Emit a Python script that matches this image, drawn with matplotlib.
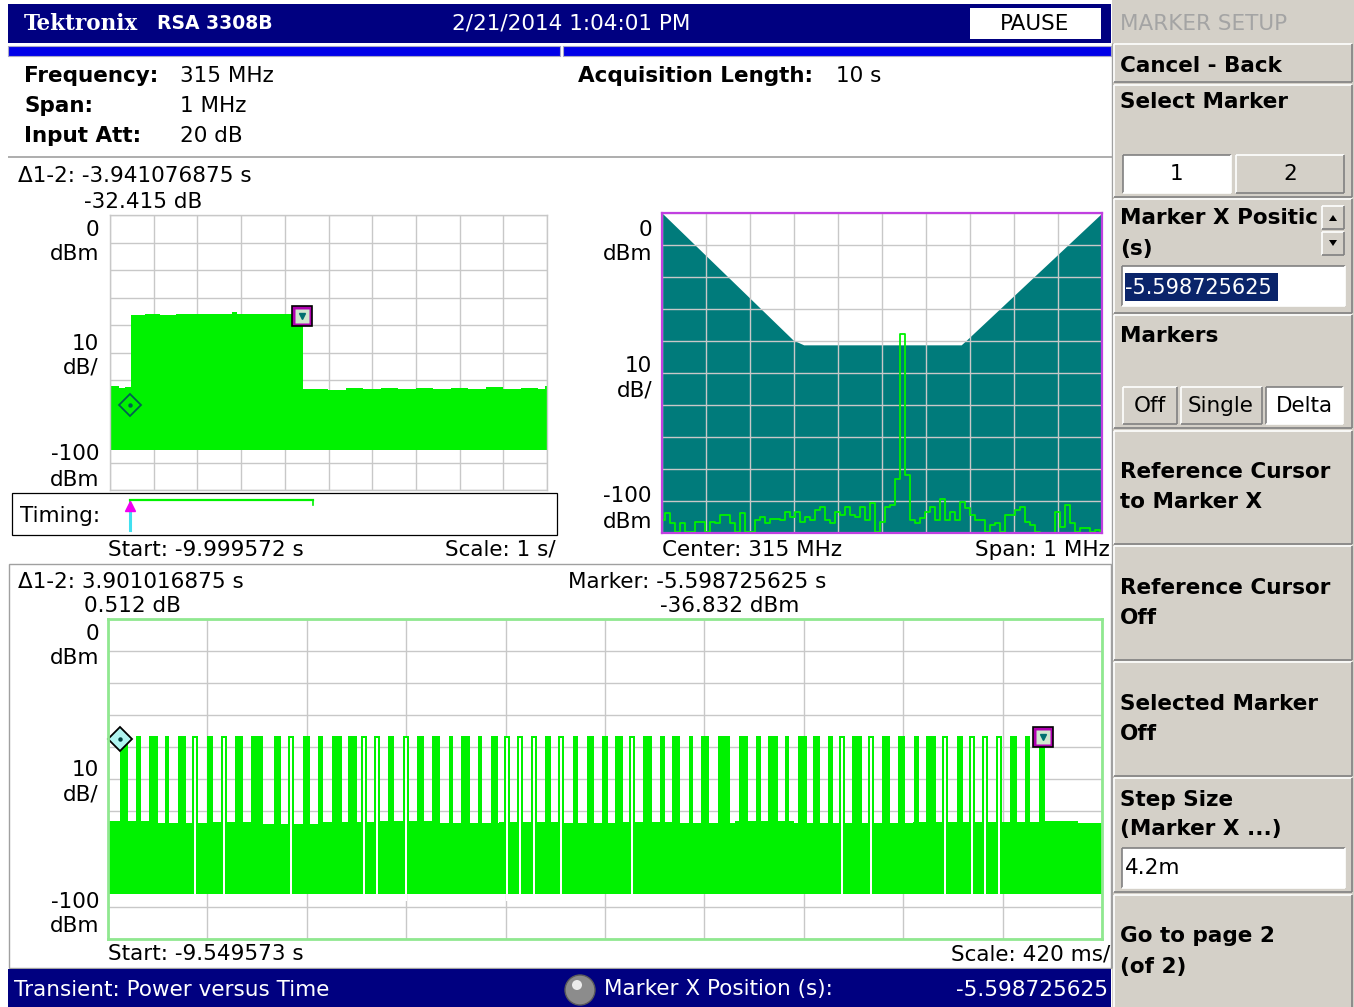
import numpy as np
import matplotlib
matplotlib.use('Agg')
import matplotlib.pyplot as plt
from matplotlib.patches import Rectangle, Circle, Polygon

plt.rcParams['font.family'] = ['DejaVu Sans']

W, H = 1354, 1007

# ---------------- data ----------------
ref_level_dbm = 0.0
div_db = 10.0
n_div = 10

center_mhz = 315.0
span_mhz = 1.0
input_att_db = 20
acq_len_s = 10

# overview power vs time (top-left)
ov_start_s = -9.999572
ov_scale_s = 1.0
ov_env_t = [-9.999572, -9.80, -9.66, -9.519, -9.20, -8.85, -8.50, -8.10, -7.70, -7.20,
            -7.10, -6.70, -6.30, -5.90, -5.584, -5.30, -5.00, -4.60, -4.20, -3.80,
            -3.40, -3.00, -2.60, -2.20, -1.80, -1.40, -1.00, -0.60, -0.20, -0.05, 0.000428]
ov_env_max = [-62.3, -62.8, -62.4, -36.2, -36.0, -36.2, -36.0, -36.1, -36.0, -35.4,
              -36.0, -36.1, -36.0, -36.1, -63.4, -63.1, -63.5, -62.9, -63.4, -63.0,
              -63.3, -62.8, -63.4, -62.9, -63.2, -62.7, -63.3, -62.9, -63.1, -62.1, -62.1]
ov_floor_dbm = -85.5

# spectrum (top-right)
spec_level_dbm = [-95.9, -93.9, -97.0, -99.6, -97.0, -99.6, -99.6, -96.5, -96.5, -99.6,
                  -96.5, -97.0, -94.4, -94.4, -97.0, -99.6, -93.9, -99.6, -99.6, -95.9,
                  -94.9, -97.0, -95.7, -95.7, -95.9, -93.3, -94.9, -93.3, -96.5, -94.9,
                  -95.9, -92.8, -91.8, -95.9, -97.0, -93.3, -94.4, -91.8, -94.4, -94.9,
                  -91.8, -95.9, -90.7, -99.6, -96.5, -91.8, -91.3, -83.0, -37.8, -82.0,
                  -96.0, -97.0, -95.4, -93.3, -91.8, -95.9, -89.5, -95.9, -93.3, -95.9,
                  -90.2, -92.3, -94.4, -95.9, -95.9, -99.6, -97.5, -97.0, -99.6, -94.4,
                  -94.4, -92.8, -91.8, -96.5, -97.5, -99.6, -100.0, -100.0, -100.0, -93.3,
                  -98.0, -91.3, -97.0, -99.6, -98.5, -98.5, -99.6, -99.0, -99.6]
mask_freq_mhz = [314.5, 314.798, 314.822, 315.180, 315.192, 315.5]
mask_level_dbm = [0.0, -39.7, -41.2, -41.2, -39.7, 0.0]

# zoomed power vs time (bottom)
zm_start_s = -9.549573
zm_scale_s = 0.420
zm_floor_dbm = -86.0
zm_pulse_top_dbm = -36.5
zm_base_ms = [0, 180, 420, 640, 900, 1150, 1400, 1650, 1900, 2150, 2400, 2650, 2900,
              3150, 3400, 3650, 3960, 4100, 4200]
zm_base_dbm = [-63.2, -63.9, -63.4, -64.0, -63.5, -63.0, -63.6, -63.3, -63.8, -63.4, -63.7,
               -63.2, -63.6, -63.9, -63.3, -63.5, -63.0, -63.6, -63.6]
pulse_start_ms = [50.7, 118.3, 173.2, 240.8, 295.8, 418.3, 536.6, 604.2, 701.4, 824.0,
                  887.3, 946.5, 1014.1, 1183.1, 1305.6, 1369.0, 1440.9, 1491.6, 1563.4, 1618.3,
                  1846.5, 1964.8, 2024.0, 2087.3, 2142.3, 2260.6, 2332.4, 2383.1, 2455.0, 2505.7,
                  2577.5, 2666.2, 2738.1, 2788.8, 2860.6, 2915.5, 2978.9, 3042.3, 3143.7, 3270.5,
                  3338.1, 3405.7, 3456.4, 3587.4, 3811.3, 3874.7, 3933.8]
pulse_end_ms = [84.5, 139.4, 211.3, 257.8, 329.6, 443.7, 570.4, 654.9, 731.0, 853.5,
                908.5, 988.7, 1052.1, 1208.5, 1335.2, 1402.8, 1457.8, 1529.6, 1580.3, 1647.9,
                1871.9, 1985.9, 2053.5, 2112.7, 2176.1, 2298.6, 2353.5, 2416.9, 2471.9, 2539.5,
                2628.2, 2704.3, 2759.2, 2831.0, 2877.5, 2953.6, 3008.5, 3063.4, 3186.0, 3304.3,
                3367.7, 3426.8, 3498.6, 3612.7, 3840.9, 3895.8, 3959.2]
gap_ms = [367.6, 490.1, 773.2, 1081.7, 1136.6, 1259.2, 1685.9, 1740.9, 1800.0, 1914.1,
          2214.1, 3101.4, 3224.0, 3536.7, 3650.7, 3705.7, 3764.8]

# markers
m2_s = -5.598725625
m2_dbm = -36.832
ov_m1_s = -9.5398025
ov_m1_dbm = -69.247
zm_m1_s = -9.4997425
zm_m1_dbm = -37.344
ov_delta_s, ov_delta_db = -3.941076875, -32.415
zm_delta_s, zm_delta_db = 3.901016875, 0.512
step_size = '4.2m'

# ---------------- style ----------------
GREEN = '#00f200'
TEAL = '#007b7b'
NAVY = '#000080'
GRID = '#c8c8c8'
SIDE = '#d4d0c8'

fig = plt.figure(figsize=(W / 100, H / 100), dpi=100)
fig.patch.set_facecolor('white')
bg = fig.add_axes([0, 0, 1, 1], zorder=0)
bg.set_xlim(0, W)
bg.set_ylim(H, 0)
bg.axis('off')


def rect(x0, y0, x1, y1, fc='none', ec='none', lw=0, z=1):
    bg.add_patch(Rectangle((x0, y0), x1 - x0, y1 - y0, facecolor=fc, edgecolor=ec,
                           linewidth=lw, zorder=z))


def line(xs, ys, c, lw=0.75, z=2):
    bg.plot(xs, ys, color=c, lw=lw, zorder=z, solid_capstyle='butt')


def txt(x, y, s, size=15.5, ha='left', weight='normal', color='black', family='DejaVu Sans', z=5):
    bg.text(x, y + 1.5, s, fontsize=size, ha=ha, va='center', fontweight=weight, color=color,
            family=family, zorder=z)


def axpx(x0, y0, x1, y1, z=2):
    return fig.add_axes([x0 / W, 1 - y1 / H, (x1 - x0) / W, (y1 - y0) / H], zorder=z)


def style(ax, xstart, xscale, spine_c, spine_lw, below=True):
    ax.set_xlim(xstart, xstart + n_div * xscale)
    ax.set_ylim(ref_level_dbm - n_div * div_db, ref_level_dbm)
    ax.set_xticks([xstart + i * xscale for i in range(n_div + 1)])
    ax.set_yticks([ref_level_dbm - i * div_db for i in range(n_div + 1)])
    ax.tick_params(length=0, labelbottom=False, labelleft=False)
    ax.set_axisbelow(below)
    ax.grid(True, color=GRID, lw=1.0)
    for s in ax.spines.values():
        s.set_color(spine_c)
        s.set_linewidth(spine_lw)
        s.set_zorder(6)


# ---------------- header ----------------
rect(8, 4, 1111, 43, fc=NAVY)
txt(24, 22, 'Tektronix', size=15.5, weight='bold', family='DejaVu Serif', color='white')
txt(157, 22, 'RSA 3308B', size=13.5, weight='bold', color='white')
txt(571, 22, '2/21/2014 1:04:01 PM', size=15.5, ha='center', color='white')
rect(970, 8, 1101, 39, fc='white')
txt(1035, 22, 'PAUSE', size=15.5, ha='center')
rect(8, 46, 560, 56, fc='#0000e8', ec='#a8a8c8', lw=0.8)
rect(563, 46, 1111, 56, fc='#0000e8', ec='#a8a8c8', lw=0.8)

txt(24, 74, 'Frequency:', weight='bold')
txt(180, 74, f'{center_mhz:g} MHz')
txt(24, 104, 'Span:', weight='bold')
txt(180, 104, f'{span_mhz:g} MHz')
txt(24, 134, 'Input Att:', weight='bold')
txt(180, 134, f'{input_att_db} dB')
txt(578, 74, 'Acquisition Length:', weight='bold')
txt(836, 74, f'{acq_len_s} s')
line([8, 1112], [157, 157], '#a0a0a0', lw=1.2)
line([1112, 1112], [43, 968], '#a0a0a0', lw=1.0)

# ---------------- overview plot ----------------
txt(18, 175, f'\u03941-2: {ov_delta_s:.9f} s')
txt(84, 200, f'{ov_delta_db:.3f} dB')
for y, s in [(228, '0'), (253, 'dBm'), (342, '10'), (366, 'dB/'), (453, '-100'), (478, 'dBm')]:
    txt(99, y, s, ha='right')

ax1 = axpx(110, 215, 547, 490)
style(ax1, ov_start_s, ov_scale_s, GRID, 1.0)
ax1.fill_between(ov_env_t, ov_floor_dbm, ov_env_max, step='post', color=GREEN, lw=0, zorder=2)
ax1.plot(ov_m1_s, ov_m1_dbm, marker='D', ms=11.5, mfc=GREEN, mec='#006050', mew=1.3, zorder=5, clip_on=False)
ax1.plot(ov_m1_s, ov_m1_dbm, marker='o', ms=2.2, color='#006050', zorder=6)
ax1.plot(m2_s, m2_dbm, marker='s', ms=15, mfc='#b000b0', mec='black', mew=1.2, zorder=5, clip_on=False)
ax1.plot(m2_s, m2_dbm, marker='s', ms=10, mfc='#cfe8cf', mec='none', zorder=6, clip_on=False)
ax1.plot(m2_s, m2_dbm, marker='v', ms=5, color='#007070', zorder=7, clip_on=False)

rect(12, 493, 557, 535, fc='white', ec='black', lw=0.9, z=1)
txt(20, 514, 'Timing:')
axT = axpx(110, 493, 547, 535, z=3)
axT.set_facecolor('none')
axT.axis('off')
axT.set_xlim(ov_start_s, ov_start_s + n_div * ov_scale_s)
axT.set_ylim(0, 1)
zs, ze = zm_start_s, zm_start_s + n_div * zm_scale_s
axT.plot([zs, ze], [0.84, 0.84], color=GREEN, lw=1.6)
axT.plot([zs, zs], [0.84, 0.72], color=GREEN, lw=1.2)
axT.plot([ze, ze], [0.84, 0.72], color=GREEN, lw=1.2)
axT.plot([ov_m1_s, ov_m1_s], [0.12, 0.62], color='#40e0f0', lw=2.2)
axT.plot(ov_m1_s, 0.68, marker='^', ms=7, color='#f000f0')
txt(108, 548, f'Start: {ov_start_s:.6f} s')
txt(556, 548, f'Scale: {ov_scale_s:g} s/', ha='right')

# ---------------- spectrum ----------------
for y, s in [(228, '0'), (253, 'dBm'), (364, '10'), (389, 'dB/'), (495, '-100'), (520, 'dBm')]:
    txt(652, y, s, ha='right')
ax2 = axpx(662, 213, 1102, 533)
f0 = center_mhz - span_mhz / 2
style(ax2, f0, span_mhz / n_div, '#c040e0', 1.6, below=False)
ax2.fill_between(mask_freq_mhz, -100, mask_level_dbm, color=TEAL, lw=0, zorder=1)
freqs = np.linspace(f0, f0 + span_mhz, len(spec_level_dbm))
ax2.plot(freqs, spec_level_dbm, drawstyle='steps-mid', color=GREEN, lw=1.3, zorder=4)
txt(662, 548, f'Center: {center_mhz:g} MHz')
txt(1110, 548, f'Span: {span_mhz:g} MHz', ha='right')

# ---------------- zoomed plot ----------------
rect(9, 564, 1111, 968, fc='white', ec='#a0a0a0', lw=1.0, z=0.5)
txt(18, 580, f'\u03941-2: {zm_delta_s:.9f} s')
txt(84, 605, f'{zm_delta_db:.3f} dB')
txt(568, 580, f'Marker: {m2_s:.9f} s')
txt(660, 605, f'{m2_dbm:.3f} dBm')
for y, s in [(632, '0'), (657, 'dBm'), (768, '10'), (793, 'dB/'), (900, '-100'), (925, 'dBm')]:
    txt(99, y, s, ha='right')
ax3 = axpx(108, 619, 1102, 939)
style(ax3, zm_start_s, zm_scale_s, '#90e890', 2.0)
tb = zm_start_s + np.array(zm_base_ms) / 1000.0
ax3.fill_between(tb, zm_floor_dbm, zm_base_dbm, step='post', color=GREEN, lw=0, zorder=2)
ps = zm_start_s + np.array(pulse_start_ms) / 1000.0
pe = zm_start_s + np.array(pulse_end_ms) / 1000.0
ax3.bar(ps, zm_pulse_top_dbm - zm_floor_dbm, width=pe - ps, bottom=zm_floor_dbm,
        align='edge', color=GREEN, lw=0, zorder=2)
gs = zm_start_s + np.array(gap_ms) / 1000.0
ax3.bar(gs, zm_pulse_top_dbm - zm_floor_dbm, width=0.024, bottom=zm_floor_dbm,
        align='center', color=GREEN, lw=0, zorder=3)
ax3.bar(gs, zm_pulse_top_dbm - 0.8 - (zm_floor_dbm - 2), width=0.009, bottom=zm_floor_dbm - 2,
        align='center', color='white', lw=0, zorder=3.5)
ax3.plot(zm_m1_s, zm_m1_dbm, marker='D', ms=12, mfc='#b0f4f0', mec='black', mew=1.3, zorder=5, clip_on=False)
ax3.plot(zm_m1_s, zm_m1_dbm, marker='o', ms=2.2, color='#004040', zorder=6, clip_on=False)
ax3.plot(m2_s, m2_dbm, marker='s', ms=15, mfc='#b000b0', mec='black', mew=1.2, zorder=5, clip_on=False)
ax3.plot(m2_s, m2_dbm, marker='s', ms=10, mfc='#cfe8cf', mec='none', zorder=6, clip_on=False)
ax3.plot(m2_s, m2_dbm, marker='v', ms=5, color='#007070', zorder=7, clip_on=False)
txt(108, 953, f'Start: {zm_start_s:.6f} s')
txt(1110, 953, f'Scale: {zm_scale_s * 1000:g} ms/', ha='right')

# ---------------- status bar ----------------
rect(8, 969, 1111, 1007, fc=NAVY)
txt(14, 988, 'Transient: Power versus Time', color='white')
bg.add_patch(Circle((580, 990), 15, facecolor='#8c8c8c', edgecolor='#5a5a5a', lw=1, zorder=3))
bg.add_patch(Circle((577, 985), 5, facecolor='#ececec', edgecolor='none', zorder=4))
txt(604, 988, 'Marker X Position (s):', color='white')
txt(1108, 988, f'{m2_s:.9f}', ha='right', color='white')

# ---------------- side bar ----------------
rect(1112, 0, 1354, 1007, fc=SIDE, z=0.8)


def bevel(x0, y0, x1, y1, sunken=False, fc=None):
    if fc:
        rect(x0, y0, x1, y1, fc=fc, z=1.5)
    light, dark = ('#808080', '#ffffff') if sunken else ('#ffffff', '#808080')
    line([x0, x1], [y0, y0], light, lw=1.2, z=2)
    line([x0, x0], [y0, y1], light, lw=1.2, z=2)
    line([x0, x1], [y1, y1], dark, lw=1.2, z=2)
    line([x1, x1], [y0, y1], dark, lw=1.2, z=2)


sections = [(44, 82), (85, 197), (199, 313), (315, 428), (431, 544), (546, 660),
            (662, 776), (778, 892), (895, 1010)]
for y0, y1 in sections:
    bevel(1114, y0, 1352, y1)

txt(1120, 23, 'MARKER SETUP', color='#a4a4a4')
txt(1120, 64, 'Cancel - Back', weight='bold', size=15.5)
txt(1120, 101, 'Select Marker', weight='bold', size=15.5)
rect(1123, 155, 1231, 193, fc='white', z=1.5)
bevel(1123, 155, 1231, 193, sunken=True)
bevel(1236, 155, 1344, 193, fc=SIDE)
txt(1177, 173, '1', ha='center')
txt(1290, 173, '2', ha='center')

txt(1120, 217, 'Marker X Positic', weight='bold', size=15.5)
txt(1120, 248, '(s)', weight='bold', size=15.5)
bevel(1322, 206, 1344, 229, fc=SIDE)
bevel(1322, 232, 1344, 255, fc=SIDE)
bg.add_patch(Polygon([[1329, 221], [1337, 221], [1333, 215]], closed=True, fc='black', zorder=3))
bg.add_patch(Polygon([[1329, 240], [1337, 240], [1333, 246]], closed=True, fc='black', zorder=3))
rect(1122, 266, 1345, 306, fc='white', z=1.5)
bevel(1122, 266, 1345, 306, sunken=True)
rect(1125, 273, 1278, 301, fc='#0a246a', z=2)
txt(1125, 286, f'{m2_s:.9f}', color='white', size=15)

txt(1120, 334, 'Markers', weight='bold', size=15.5)
bevel(1123, 387, 1177, 424, fc=SIDE)
bevel(1181, 387, 1262, 424, fc=SIDE)
rect(1266, 387, 1343, 424, fc='white', z=1.5)
bevel(1266, 387, 1343, 424, sunken=True)
txt(1150, 404, 'Off', ha='center')
txt(1221, 404, 'Single', ha='center')
txt(1304, 404, 'Delta', ha='center')

txt(1120, 470, 'Reference Cursor', weight='bold', size=15.5)
txt(1120, 500, 'to Marker X', weight='bold', size=15.5)
txt(1120, 586, 'Reference Cursor', weight='bold', size=15.5)
txt(1120, 616, 'Off', weight='bold', size=15.5)
txt(1120, 702, 'Selected Marker', weight='bold', size=15.5)
txt(1120, 732, 'Off', weight='bold', size=15.5)
txt(1120, 798, 'Step Size', weight='bold', size=15.5)
txt(1120, 828, '(Marker X ...)', weight='bold', size=15.5)
rect(1122, 848, 1345, 888, fc='white', z=1.5)
bevel(1122, 848, 1345, 888, sunken=True)
txt(1125, 867, step_size)
txt(1120, 935, 'Go to page 2', weight='bold', size=15.5)
txt(1120, 965, '(of 2)', weight='bold', size=15.5)

fig.savefig('out.png', dpi=100)
